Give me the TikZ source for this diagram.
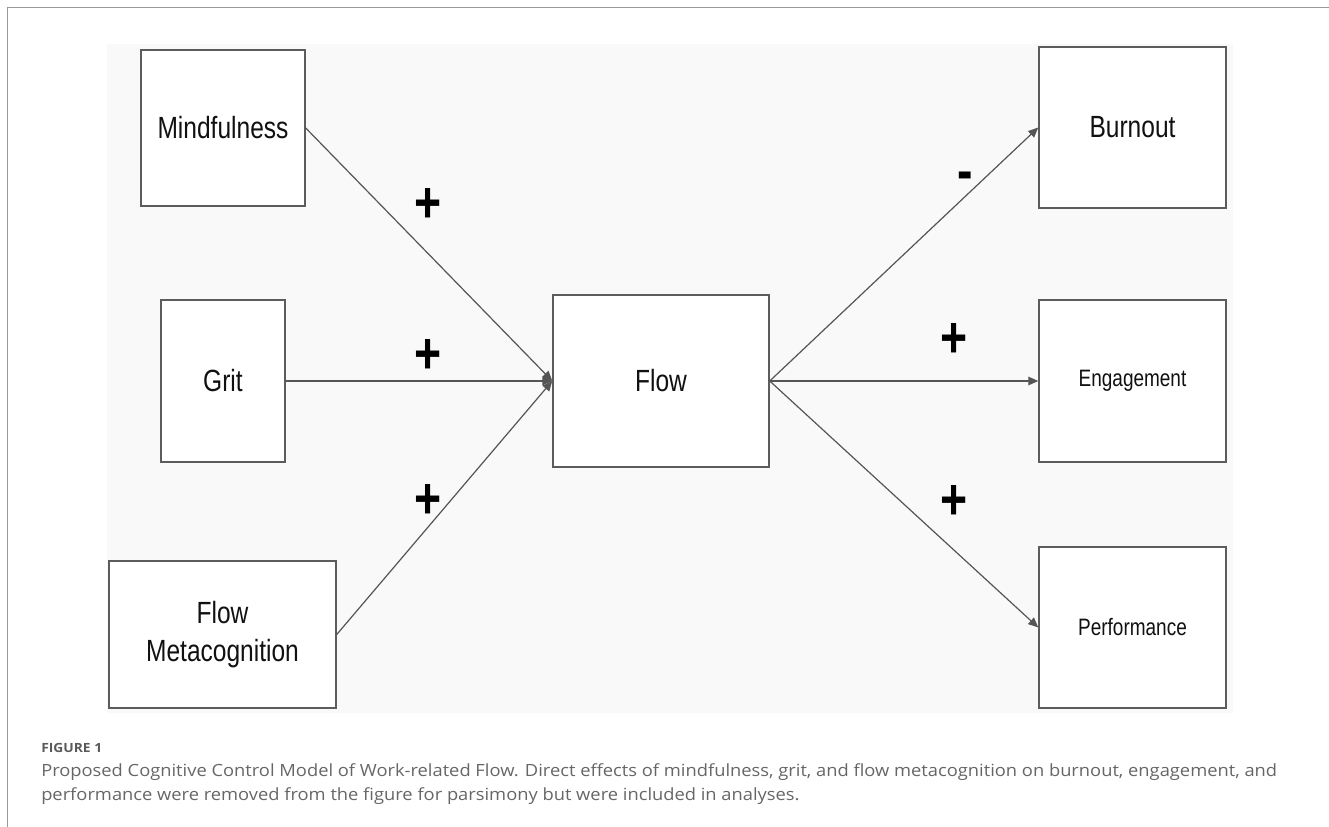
\documentclass[tikz,border=0pt]{standalone}
\usepackage{fontspec}
\setmainfont{Liberation Sans}
\newfontfamily\boxfont[FakeStretch=0.8]{Liberation Sans}
\newfontfamily\capfont[FakeStretch=1.09]{Open Sans}
\usetikzlibrary{arrows.meta}
\definecolor{panelbg}{HTML}{F9F9F9}
\definecolor{boxline}{HTML}{5C5C5C}
\definecolor{arrline}{HTML}{555555}
\definecolor{framegray}{HTML}{9A9A9A}
\definecolor{captext}{HTML}{666666}
\definecolor{caphead}{HTML}{5A5A5A}
\definecolor{labtext}{HTML}{111111}
\begin{document}
\begin{tikzpicture}[x=0.75pt,y=-0.75pt,
  varbox/.style={draw=boxline, fill=white, line width=1.1pt, inner sep=0pt,
    align=center, text=labtext, font=\boxfont\fontsize{23}{28.5}\selectfont},
  smallbox/.style={varbox, font=\boxfont\fontsize{17.8}{22}\selectfont},
  arr/.style={draw=arrline, line width=0.9pt, -{Triangle[length=7.5pt,width=6.5pt]}},
  sign/.style={font=\boxfont\bfseries\fontsize{43.5}{43.5}\selectfont, inner sep=0pt, text=black},
  caphd/.style={anchor=base west, inner sep=0pt, text=caphead, font=\capfont\bfseries\fontsize{9.5}{12}\selectfont},
  capln/.style={anchor=base west, inner sep=0pt, text=captext, font=\capfont\fontsize{12.6}{18}\selectfont}
]
\useasboundingbox (0,0) rectangle (1329,827);
% frame and panel
\draw[framegray, line width=1.3pt] (7.5,827) -- (7.5,7.5) -- (1329,7.5);
\fill[panelbg] (107,44) rectangle (1233,713);
% boxes
\node[varbox, minimum width=123pt, minimum height=117pt] (mind) at (223,128) {Mindfulness};
\node[varbox, minimum width=93pt, minimum height=121.5pt] (grit) at (223,381) {Grit};
\node[varbox, minimum width=170.25pt, minimum height=110.25pt] (meta) at (222.5,634.5) {Flow\\Metacognition};
\node[varbox, minimum width=162pt, minimum height=129pt] (flow) at (661,381) {Flow};
\node[varbox, minimum width=140.25pt, minimum height=120.75pt] (burn) at (1132.5,127.5) {Burnout};
\node[smallbox, minimum width=140.25pt, minimum height=121.5pt] (eng) at (1132.5,381) {Engagement};
\node[smallbox, minimum width=140.25pt, minimum height=120.75pt] (perf) at (1132.5,627.5) {Performance};
% connectors
\draw[arr] (mind.east) -- (flow.west);
\draw[arr] (grit.east) -- (flow.west);
\draw[arr] (meta.east) -- (flow.west);
\draw[arr] (flow.east) -- (burn.west);
\draw[arr] (flow.east) -- (eng.west);
\draw[arr] (flow.east) -- (perf.west);
% signs
\node[sign] (s1) at (428,205) {+};
\node[sign] (s2) at (428,356) {+};
\node[sign] (s3) at (428,501) {+};
\node[sign] (s4) at (965,181) {-};
\node[sign] (s5) at (954,340) {+};
\node[sign] (s6) at (954,502) {+};
% caption
\node[caphd] (fig) at (41,752) {FIGURE 1};
\node[capln] (cap1) at (41,776) {Proposed Cognitive Control Model of Work-related Flow. Direct effects of mindfulness, grit, and flow metacognition on burnout, engagement, and};
\node[capln] (cap2) at (41,800) {performance were removed from the figure for parsimony but were included in analyses.};
\end{tikzpicture}
\end{document}
